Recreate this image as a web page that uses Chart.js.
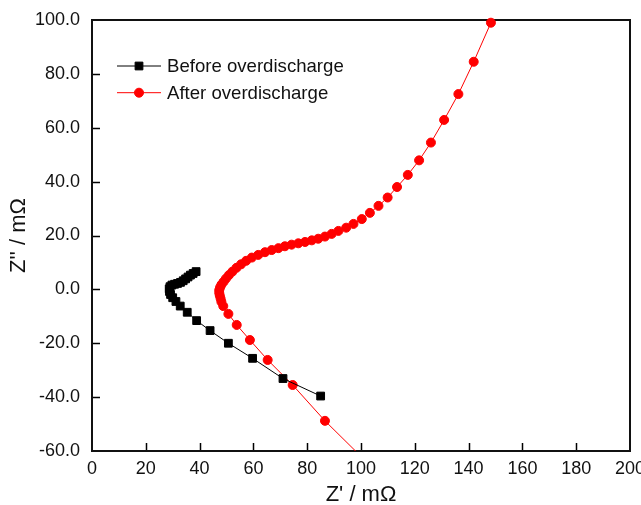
<!DOCTYPE html>
<html><head><meta charset="utf-8">
<script src="https://cdn.jsdelivr.net/npm/chart.js@4/dist/chart.umd.min.js"></script>
<style>html,body{margin:0;padding:0;background:#fff}#wrap{width:641px;height:505px}</style>
</head><body><div id="wrap"><canvas id="c" width="641" height="505"></canvas></div>
<script>
// ---- data (Z' and Z'' in mΩ) ----
const seriesNames = ['Before overdischarge', 'After overdischarge'];
const beforeX = [85.0, 71.0, 59.7, 50.7, 43.9, 38.9, 35.4, 32.8, 31.2, 30.0, 29.2, 28.8, 28.7, 29.0, 29.7, 30.7, 31.8, 32.9, 33.9, 34.8, 35.7, 36.6, 37.6, 38.7];
const beforeY = [-39.6, -33.1, -25.6, -20.0, -15.3, -11.6, -8.5, -6.2, -4.5, -3.1, -1.9, -0.8, 0.2, 1.0, 1.6, 1.9, 2.2, 2.6, 3.2, 3.9, 4.6, 5.3, 5.9, 6.6];
const afterX = [100.5, 86.6, 74.6, 65.3, 58.7, 53.8, 50.7, 48.8, 48.1, 47.8, 47.5, 47.3, 47.3, 47.6, 48.1, 48.9, 49.8, 50.9, 52.2, 53.7, 55.4, 57.3, 59.4, 61.8, 64.3, 66.8, 69.3, 71.7, 74.2, 76.7, 79.2, 81.7, 84.1, 86.6, 89.1, 91.6, 94.5, 97.2, 100.3, 103.3, 106.5, 109.9, 113.4, 117.4, 121.6, 126.0, 130.9, 136.2, 141.9, 148.3];
const afterY = [-62.5, -48.8, -35.5, -26.2, -18.8, -13.2, -9.1, -6.2, -4.6, -3.4, -2.3, -1.3, -0.3, 0.7, 1.7, 2.8, 4.0, 5.3, 6.6, 8.0, 9.3, 10.6, 11.8, 12.8, 13.8, 14.6, 15.3, 16.0, 16.6, 17.1, 17.6, 18.2, 18.8, 19.6, 20.6, 21.7, 22.9, 24.3, 26.1, 28.4, 31.0, 34.1, 38.0, 42.5, 47.9, 54.5, 62.9, 72.5, 84.5, 99.0];
const xTicks = [0, 20, 40, 60, 80, 100, 120, 140, 160, 180, 200];
const yTicks = [-60, -40, -20, 0, 20, 40, 60, 80, 100];
const xTitle = "Z' / m\u03A9";
const yTitle = "Z'' / m\u03A9";

const toPts = (xs, ys) => xs.map((x, i) => ({x: x, y: ys[i]}));
const FONT = '"Liberation Sans", Arial, Helvetica, sans-serif';
Chart.defaults.font.family = FONT;
Chart.defaults.color = '#000';

const framePlugin = {
  id: 'frame',
  beforeDatasetsDraw(chart) {
    const {ctx, chartArea: a, scales} = chart;
    ctx.save();
    ctx.strokeStyle = '#000';
    ctx.lineWidth = 1.5;
    ctx.beginPath();
    scales.x.ticks.forEach(t => {
      const px = Math.round(scales.x.getPixelForValue(t.value)) + 0.5;
      if (px > a.left + 2 && px < a.right - 2) { ctx.moveTo(px, a.bottom); ctx.lineTo(px, a.bottom - 8); }
    });
    scales.y.ticks.forEach(t => {
      const py = Math.round(scales.y.getPixelForValue(t.value)) + 0.5;
      if (py > a.top + 2 && py < a.bottom - 2) { ctx.moveTo(a.left, py); ctx.lineTo(a.left + 8, py); }
    });
    ctx.stroke();
    ctx.lineWidth = 2;
    ctx.strokeStyle = '#111';
    ctx.strokeRect(a.left, a.top, a.right - a.left, a.bottom - a.top);
    ctx.restore();
  }
};

const legendPlugin = {
  id: 'customLegend',
  afterDraw(chart) {
    const ctx = chart.ctx;
    ctx.save();
    chart.data.datasets.forEach((ds, i) => {
      const y = 66 + i * 26.7;
      ctx.strokeStyle = ds.borderColor;
      ctx.lineWidth = ds.borderWidth;
      ctx.beginPath(); ctx.moveTo(117, y); ctx.lineTo(161, y); ctx.stroke();
      ctx.fillStyle = ds.pointBackgroundColor;
      ctx.strokeStyle = ds.pointBorderColor;
      ctx.lineWidth = ds.pointBorderWidth;
      Chart.helpers.drawPoint(ctx, {pointStyle: ds.pointStyle, radius: ds.pointRadius, borderWidth: ds.pointBorderWidth, rotation: 0}, 139, y);
      ctx.fillStyle = '#111';
      ctx.font = '18.6px ' + FONT;
      ctx.textBaseline = 'middle';
      ctx.textAlign = 'left';
      ctx.fillText(ds.label, 167, y + 1);
    });
    ctx.restore();
  }
};

const chart = new Chart(document.getElementById('c'), {
  type: 'scatter',
  data: {
    datasets: [
      {
        label: seriesNames[0], data: toPts(beforeX, beforeY), showLine: true,
        borderColor: '#000', borderWidth: 1, backgroundColor: '#000',
        pointStyle: 'rect', pointRadius: 5.5, pointBorderWidth: 1,
        pointBackgroundColor: '#000', pointBorderColor: '#000',
        clip: {left: 10, top: 10, right: 10, bottom: 0}
      },
      {
        label: seriesNames[1], data: toPts(afterX, afterY), showLine: true,
        borderColor: '#ff0000', borderWidth: 1, backgroundColor: '#ff0000',
        pointStyle: 'circle', pointRadius: 4.5, pointBorderWidth: 1,
        pointBackgroundColor: '#ff0000', pointBorderColor: '#ff0000',
        clip: {left: 10, top: 10, right: 10, bottom: 0}
      }
    ]
  },
  options: {
    responsive: false,
    animation: false,
    devicePixelRatio: 1,
    layout: {padding: {left: 0, top: 20, right: 11, bottom: 0}, autoPadding: false},
    plugins: {legend: {display: false}, tooltip: {enabled: false}},
    scales: {
      x: {
        type: 'linear', min: 0, max: 200,
        afterBuildTicks: s => { s.ticks = xTicks.map(v => ({value: v})); },
        afterFit: s => { s.height = 54; s.paddingLeft = 0; s.paddingRight = 0; s.paddingTop = 0; s.paddingBottom = 0; },
        grid: {display: false, drawTicks: false},
        border: {display: false},
        ticks: {font: {size: 18}, color: '#111', padding: 7, maxRotation: 0, autoSkip: false, callback: v => String(v)},
        title: {display: true, text: xTitle, font: {size: 22}, color: '#111', padding: {top: 0, bottom: -3.5}}
      },
      y: {
        type: 'linear', min: -60, max: 100,
        afterBuildTicks: s => { s.ticks = yTicks.map(v => ({value: v})); },
        afterFit: s => { s.width = 92; s.paddingLeft = 0; s.paddingRight = 0; s.paddingTop = 0; s.paddingBottom = 0; },
        grid: {display: false, drawTicks: false},
        border: {display: false},
        ticks: {font: {size: 18}, color: '#111', padding: 12, autoSkip: false, callback: v => Number(v).toFixed(1)},
        title: {display: true, text: yTitle, font: {size: 22}, color: '#111', padding: {top: 6, bottom: 0}}
      }
    }
  },
  plugins: [framePlugin, legendPlugin]
});
</script></body></html>
